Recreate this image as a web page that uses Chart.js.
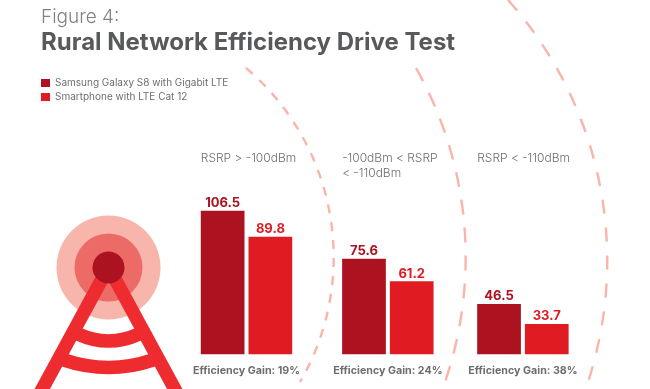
<!DOCTYPE html>
<html>
<head>
<meta charset="utf-8">
<title>Rural Network Efficiency Drive Test</title>
<script src="https://cdn.jsdelivr.net/npm/chart.js@4"></script>
<style>
    body { margin: 0; background: #fff; }
    #wrap { position: relative; width: 650px; height: 389px; overflow: hidden; }
    #wrap svg, #wrap canvas { position: absolute; left: 0; top: 0; }
</style>
</head>
<body>
<div id="wrap">
    <!-- the tower and signal rings are decoration, not data -->
    <svg width="650" height="389" viewBox="0 0 650 389">
        <g fill="none" stroke="#fab4aa" stroke-width="2.4">
            <path d="M246 68 A248 248 0 0 1 300 382" stroke-dasharray="9 9"/>
            <path d="M416 68 A386 386 0 0 1 445 382" stroke-dasharray="15 13"/>
            <path d="M508 0 A392 392 0 0 1 588 382" stroke-dasharray="14 14"/>
        </g>
        <circle cx="108.5" cy="267.5" r="52" fill="#f7b5ab"/>
        <circle cx="108.5" cy="267.5" r="34" fill="#ec6b66"/>
        <g fill="none" stroke="#ee2b2e" stroke-width="13.5">
            <path d="M78 334 Q108.5 348 139 334"/>
            <path d="M64 360 Q108.5 375 153 360"/>
            <path d="M108.5 267 L39 395"/>
            <path d="M108.5 267 L178 395"/>
        </g>
        <circle cx="108.5" cy="267.5" r="16" fill="#ac1220"/>
    </svg>
    <canvas id="myChart" width="650" height="389"></canvas>
</div>
<script>
const regions = ["RSRP > -100dBm", ["-100dBm < RSRP", "< -110dBm"], "RSRP < -110dBm"];
const efficiency_gain = [19, 24, 38];
const galaxy_name = "Samsung Galaxy S8 with Gigabit LTE";
const galaxy_values = [106.5, 75.6, 46.5];
const smartphone_name = "Smartphone with LTE Cat 12";
const smartphone_values = [89.8, 61.2, 33.7];

const DARK_RED = "#ac1220";
const RED = "#e01b22";
const GREY = "#6d6e71";
const FONT = "Inter, sans-serif";

// the three groups in the picture are not quite evenly spaced
const group_shift = [0, 3.15, 0];

class ShiftedCategoryScale extends Chart.CategoryScale {
    getPixelForValue(value) {
        return super.getPixelForValue(value) + (group_shift[value] || 0);
    }
}
ShiftedCategoryScale.id = "shiftedCategory";
ShiftedCategoryScale.defaults = Chart.CategoryScale.defaults;
Chart.register(ShiftedCategoryScale);

const legendPlace = {
    id: "legendPlace",
    afterLayout(chart) {
        chart.legend.left = 41 - chart.options.plugins.legend.labels.padding;
        chart.legend.top = 74;
    }
};

const barText = {
    id: "barText",
    afterDatasetsDraw(chart) {
        const ctx = chart.ctx;
        ctx.save();
        ctx.textAlign = "center";
        ctx.textBaseline = "bottom";
        ctx.font = "700 13px " + FONT;
        chart.data.datasets.forEach((dataset, d) => {
            ctx.fillStyle = dataset.backgroundColor;
            chart.getDatasetMeta(d).data.forEach((bar, i) => {
                ctx.fillText(dataset.data[i].toFixed(1), bar.x, bar.y - 1);
            });
        });
        // region heading sits over the left edge of each group
        ctx.textAlign = "left";
        ctx.textBaseline = "middle";
        ctx.font = "300 12px " + FONT;
        ctx.fillStyle = GREY;
        chart.getDatasetMeta(0).data.forEach((bar, i) => {
            [].concat(regions[i]).forEach((line, n) => {
                ctx.fillText(line, bar.x - bar.width / 2, 158 + n * 15);
            });
        });
        ctx.restore();
    }
};

const chart = new Chart(document.getElementById("myChart"), {
    type: "bar",
    data: {
        labels: regions,
        datasets: [
            { label: galaxy_name, data: galaxy_values, backgroundColor: DARK_RED },
            { label: smartphone_name, data: smartphone_values, backgroundColor: RED }
        ]
    },
    options: {
        responsive: false,
        animation: false,
        devicePixelRatio: 1,
        categoryPercentage: 0.7067,
        barPercentage: 0.916,
        layout: { padding: { top: 6, left: 41, right: 58, bottom: 10 } },
        scales: {
            x: {
                type: "shiftedCategory",
                offset: true,
                grid: { display: false },
                border: { display: false },
                ticks: {
                    color: GREY,
                    padding: 2,
                    maxRotation: 0,
                    font: { family: FONT, size: 10.7, weight: "700" },
                    callback: (value, i) => "Efficiency Gain: " + efficiency_gain[i] + "%"
                }
            },
            y: {
                min: 14.3,
                max: 198.5,
                grid: { display: false },
                border: { display: false },
                ticks: { display: false },
                afterFit(scale) { scale.width = 136.4; }
            }
        },
        plugins: {
            title: {
                display: true,
                text: "Figure 4:",
                align: "start",
                color: "#808285",
                padding: { top: 0, bottom: 0 },
                font: { family: FONT, size: 19, weight: "300" }
            },
            subtitle: {
                display: true,
                text: "Rural Network Efficiency Drive Test",
                align: "start",
                color: "#58595b",
                padding: { top: 0, bottom: 10 },
                font: { family: FONT, size: 24, weight: "700" }
            },
            legend: {
                position: "chartArea",
                align: "start",
                labels: {
                    boxWidth: 9,
                    boxHeight: 8,
                    padding: 4,
                    color: GREY,
                    font: { family: FONT, size: 10, weight: "400" }
                }
            },
            tooltip: { enabled: false }
        }
    },
    plugins: [legendPlace, barText]
});
</script>
</body>
</html>
